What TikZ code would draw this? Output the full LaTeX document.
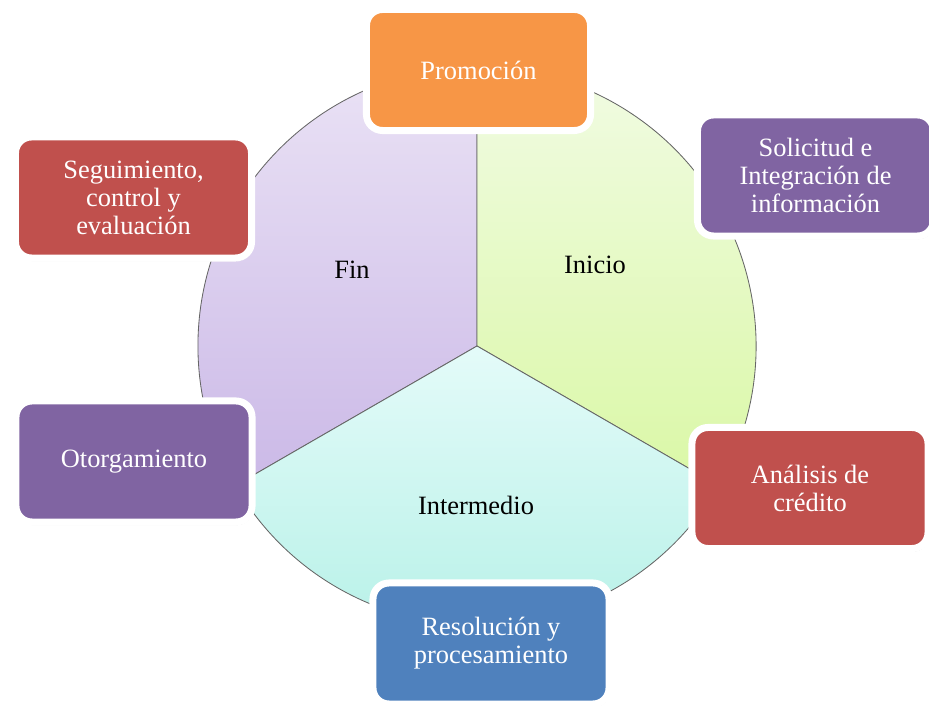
\documentclass[tikz,border=0pt]{standalone}
\usepackage{fontspec}
\setmainfont{Liberation Serif}
\usetikzlibrary{shadows}
\definecolor{naranja}{HTML}{F79646}
\definecolor{morado}{HTML}{8064A2}
\definecolor{rojo}{HTML}{C0504D}
\definecolor{azul}{HTML}{4F81BD}
\definecolor{finA}{HTML}{EAE2F5}
\definecolor{finB}{HTML}{CBB9E7}
\definecolor{inicioA}{HTML}{F1FBE3}
\definecolor{inicioB}{HTML}{DAF8A6}
\definecolor{mediaA}{HTML}{E4FBF9}
\definecolor{mediaB}{HTML}{B3F0E6}
\begin{document}
\begin{tikzpicture}[x=0.025cm,y=0.025cm,
  caja/.style={draw=white,line width=0.175cm,rounded corners=0.4cm,
    minimum width=5.9cm,minimum height=3.025cm,align=center,text=white,
    font=\fontsize{18.8}{19.9}\selectfont,
    drop shadow={shadow xshift=0.6pt,shadow yshift=-2.2pt,opacity=0.35}},
  etapa/.style={font=\fontsize{18.8}{19.9}\selectfont},
  borde/.style={draw=black!60,line width=0.6pt}]
  \useasboundingbox (0,0) rectangle (929,705);
  \coordinate (c) at (477,359);

  \path[borde,top color=finA,bottom color=finB] (c) -- ++(90:6.975cm) arc[start angle=90,end angle=210,radius=6.975cm] -- cycle;
  \path[borde,top color=inicioA,bottom color=inicioB] (c) -- ++(-30:6.975cm) arc[start angle=-30,end angle=90,radius=6.975cm] -- cycle;
  \path[borde,top color=mediaA,bottom color=mediaB] (c) -- ++(210:6.975cm) arc[start angle=210,end angle=330,radius=6.975cm] -- cycle;

  \node[etapa] (fin) at (352,435) {Fin};
  \node[etapa] (inicio) at (595,440) {Inicio};
  \node[etapa] (intermedio) at (476,200) {Intermedio};

  \node[caja,fill=naranja,minimum width=5.6cm] (promocion) at (478.5,635) {Promoción};
  \node[caja,fill=morado] (solicitud) at (815.5,529.5) {Solicitud e\\Integración de\\información};
  \node[caja,fill=rojo] (seguimiento) at (133.5,507.5) {Seguimiento,\\control y\\evaluación};
  \node[caja,fill=morado] (otorgamiento) at (134,243.5) {Otorgamiento};
  \node[caja,fill=rojo] (analisis) at (810,217) {Análisis de\\crédito};
  \node[caja,fill=azul] (resolucion) at (491,61.5) {Resolución y\\procesamiento};
\end{tikzpicture}
\end{document}
